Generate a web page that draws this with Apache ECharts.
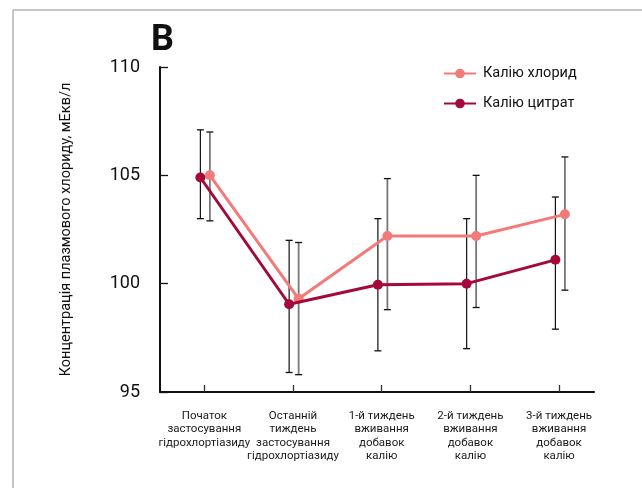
<!DOCTYPE html>
<html><head><meta charset="utf-8">
<script src="https://cdn.jsdelivr.net/npm/echarts@6/dist/echarts.min.js"></script>
<style>html,body{margin:0;padding:0;background:#fff}#c{width:642px;height:488px}</style>
</head><body><div id="c"></div>
<script>
const categories = [
  'Початок\nзастосування\nгідрохлортіазиду',
  'Останній\nтиждень\nзастосування\nгідрохлортіазиду',
  '1-й тиждень\nвживання\nдобавок\nкалію',
  '2-й тиждень\nвживання\nдобавок\nкалію',
  '3-й тиждень\nвживання\nдобавок\nкалію'
];
const seriesNames = ['Калію хлорид', 'Калію цитрат'];
const chlorideMean = [105.0, 99.3, 102.2, 102.2, 103.2];
const chlorideLow  = [102.9, 95.8, 98.8, 98.9, 99.7];
const chlorideHigh = [107.0, 101.9, 104.85, 105.0, 105.85];
const citrateMean  = [104.9, 99.05, 99.95, 100.0, 101.1];
const citrateLow   = [103.0, 95.9, 96.9, 97.0, 97.9];
const citrateHigh  = [107.1, 102.0, 103.0, 103.0, 104.0];
const yTicks = [95, 100, 105, 110];
const yAxisName = 'Концентрація плазмового хлориду, мЕкв/л';
const panelLabel = 'B';

const chlorideShift = 0.062, citrateShift = -0.045;
const pink = '#f27a78', dark = '#a5093a';
const idx = categories.map((_, i) => i);

function errSeries(means, lows, highs, shift, barColor, barWidth) {
  return {
    type: 'custom', z: 1, silent: true,
    data: idx.map(i => [i + shift, lows[i], highs[i]]),
    renderItem: function (params, api) {
      const x = api.value(0);
      const lo = api.coord([x, api.value(1)]);
      const hi = api.coord([x, api.value(2)]);
      const w = 3.5;
      return { type: 'group', children: [
        { type: 'line', shape: { x1: lo[0], y1: lo[1], x2: hi[0], y2: hi[1] }, style: { stroke: barColor, lineWidth: barWidth } },
        { type: 'line', shape: { x1: hi[0] - w, y1: hi[1], x2: hi[0] + w, y2: hi[1] }, style: { stroke: '#111', lineWidth: 1.3 } },
        { type: 'line', shape: { x1: lo[0] - w, y1: lo[1], x2: lo[0] + w, y2: lo[1] }, style: { stroke: '#111', lineWidth: 1.3 } }
      ]};
    }
  };
}

const chart = echarts.init(document.getElementById('c'));
chart.setOption({
  animation: false,
  backgroundColor: '#fff',
  title: { text: panelLabel, left: 146, top: 18, textStyle: { fontFamily: 'Roboto', fontSize: 36, fontWeight: 'bold', color: '#111' } },
  graphic: [
    { type: 'line', shape: { x1: 13, y1: 10, x2: 642, y2: 10 }, style: { stroke: '#b3b3b3', lineWidth: 1.5 } },
    { type: 'line', shape: { x1: 13, y1: 10, x2: 13, y2: 488 }, style: { stroke: '#b3b3b3', lineWidth: 1.5 } }
  ],
  legend: {
    orient: 'vertical', left: 438, top: 61, itemGap: 15, itemWidth: 32, itemHeight: 12,
    textStyle: { fontFamily: 'Roboto', fontSize: 14.5, color: '#111', padding: [0, 0, 0, 2] },
    data: seriesNames
  },
  grid: [
    { left: 160, right: 48, top: 67, bottom: 96 },
    { left: 160, right: 38.6, top: 67, bottom: 96 }
  ],
  xAxis: [
    {
      type: 'value', gridIndex: 0, min: -0.5, max: 4.39,
      axisLine: { show: true, onZero: false, lineStyle: { color: '#111', width: 2 } },
      axisTick: { show: false }, axisLabel: { show: false }, splitLine: { show: false }
    },
    {
      type: 'category', gridIndex: 1, data: categories, boundaryGap: true,
      axisLine: { show: false },
      axisTick: { show: true, inside: true, length: 7, alignWithLabel: true, interval: 0, lineStyle: { color: '#333', width: 1.3 } },
      axisLabel: { interval: 0, fontFamily: 'Roboto', fontSize: 11.5, lineHeight: 13.5, color: '#1a1a1a', margin: 17, align: 'center', verticalAlign: 'top' },
      splitLine: { show: false }
    }
  ],
  yAxis: [
    {
      type: 'value', gridIndex: 0, min: yTicks[0], max: yTicks[yTicks.length - 1], interval: 5,
      name: yAxisName, nameLocation: 'middle', nameGap: 86, nameRotate: 90,
      nameTextStyle: { fontFamily: 'Roboto', fontSize: 14.5, color: '#111' },
      axisLine: { show: true, onZero: false, lineStyle: { color: '#111', width: 2 } },
      axisTick: { show: true, inside: true, length: 8, lineStyle: { color: '#111', width: 1.3 } },
      axisLabel: { fontFamily: 'Roboto', fontSize: 18, color: '#111', margin: 20 },
      splitLine: { show: false }
    },
    { type: 'value', gridIndex: 1, min: yTicks[0], max: yTicks[yTicks.length - 1], show: false }
  ],
  series: [
    errSeries(chlorideMean, chlorideLow, chlorideHigh, chlorideShift, '#777', 1.8),
    errSeries(citrateMean, citrateLow, citrateHigh, citrateShift, '#111', 1.2),
    {
      name: seriesNames[0], type: 'line', z: 3,
      data: idx.map(i => [i + chlorideShift, chlorideMean[i]]),
      symbol: 'circle', symbolSize: 10,
      lineStyle: { color: pink, width: 3 }, itemStyle: { color: pink }
    },
    {
      name: seriesNames[1], type: 'line', z: 4,
      data: idx.map(i => [i + citrateShift, citrateMean[i]]),
      symbol: 'circle', symbolSize: 10,
      lineStyle: { color: dark, width: 3 }, itemStyle: { color: dark }
    }
  ]
});
</script></body></html>
